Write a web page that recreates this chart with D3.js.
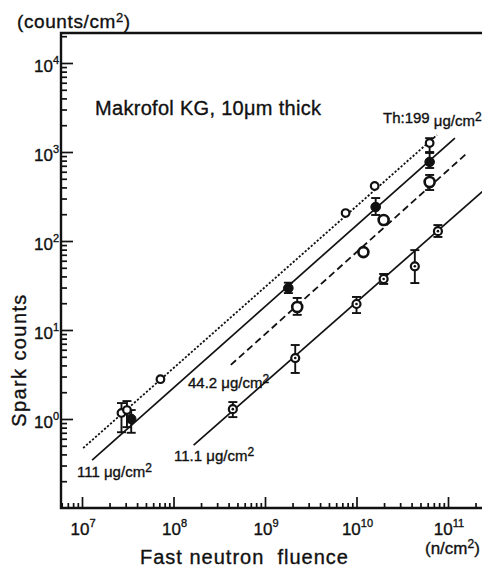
<!DOCTYPE html>
<html>
<head>
<meta charset="utf-8">
<script src="https://cdn.jsdelivr.net/npm/d3@7"></script>
<style>
  body { margin: 0; background: #fff; }
  svg { display: block; }
  text { fill: #111; stroke: #111; stroke-width: 0.35px; font-family: "Liberation Sans", Arial, sans-serif; }
  .narrow { font-family: "Liberation Sans Narrow", "Liberation Sans", Arial, sans-serif; }
</style>
</head>
<body>
<svg id="chart"></svg>
<script>
// Tick values (decades)
const fluenceDecades = [1e7, 1e8, 1e9, 1e10, 1e11];
const countDecades = [1e0, 1e1, 1e2, 1e3, 1e4];

// Measured points: fluence (n/cm2), spark counts (counts/cm2), error bar lo/hi
const th199 = [
  { fluence: 2.7e7, counts: 1.17, lo: 0.71, hi: 1.51 },
  { fluence: 3.1e7, counts: 1.26, lo: 0.81, hi: 1.59 },
  { fluence: 7.2e7, counts: 2.8 },
  { fluence: 7.6e9, counts: 206 },
  { fluence: 1.58e10, counts: 415 },
  { fluence: 6.3e10, counts: 1260, lo: 1000, hi: 1430 }
];
const th111 = [
  { fluence: 3.45e7, counts: 1.0, lo: 0.70, hi: 1.26 },
  { fluence: 1.8e9, counts: 29.6, lo: 26, hi: 34 },
  { fluence: 1.62e10, counts: 241, lo: 196, hi: 304 },
  { fluence: 6.3e10, counts: 773, lo: 661, hi: 975 }
];
const th44 = [
  { fluence: 2.25e9, counts: 18.1, lo: 14.8, hi: 22.9 },
  { fluence: 1.19e10, counts: 75 },
  { fluence: 1.98e10, counts: 172 },
  { fluence: 6.3e10, counts: 460, lo: 374, hi: 552 }
];
const th11 = [
  { fluence: 4.45e8, counts: 1.29, lo: 1.05, hi: 1.55 },
  { fluence: 2.14e9, counts: 4.84, lo: 3.29, hi: 6.78 },
  { fluence: 1.0e10, counts: 19.6, lo: 15.5, hi: 23.5 },
  { fluence: 1.98e10, counts: 37.4, lo: 32.9, hi: 42.6 },
  { fluence: 4.34e10, counts: 52, lo: 33.7, hi: 79 },
  { fluence: 7.76e10, counts: 129, lo: 111, hi: 151 }
];

// Fitted lines (end points, data units)
const fit199 = [[1.03e7, 0.472], [7.57e10, 1552]];
const fit111 = [[1.29e7, 0.346], [1.19e11, 1435]];
const fit44 = [[4.23e8, 4.05], [1.62e11, 975]];
const fit11 = [[1.66e8, 0.51], [2.6e11, 390]];

const width = 482;
const height = 570;
const plotLeft = 61, plotRight = 482, plotTop = 33, plotBottom = 508;

const svg = d3.select("#chart")
  .attr("width", width)
  .attr("height", height);

// Scales: set from decade positions, then widened to the frame
const x = d3.scaleLog().domain([1e7, 1e11]).range([82, 448]);
x.domain([x.invert(plotLeft), x.invert(plotRight)]).range([plotLeft, plotRight]);
const y = d3.scaleLog().domain([1, 1e4]).range([419, 63]);
y.domain([y.invert(plotBottom), y.invert(plotTop)]).range([plotBottom, plotTop]);

// minor ticks 2..9 of each decade inside the domain
function minorTicks(scale) {
  const [a, b] = scale.domain();
  const lo = Math.min(a, b), hi = Math.max(a, b);
  const out = [];
  for (let e = Math.floor(Math.log10(lo)); e <= Math.ceil(Math.log10(hi)); e++) {
    for (let k = 2; k <= 9; k++) {
      const v = k * Math.pow(10, e);
      if (v > lo && v < hi) out.push(v);
    }
  }
  return out;
}

const tickStyle = g => {
  g.select(".domain").remove();
  g.selectAll("line").attr("stroke", "#111").attr("stroke-width", 1.7);
};

// X axis ticks (pointing up into the plot)
svg.append("g")
    .attr("transform", `translate(0,${plotBottom})`)
    .call(d3.axisBottom(x).tickValues(minorTicks(x)).tickSize(-5).tickFormat(""))
    .call(tickStyle);
svg.append("g")
    .attr("transform", `translate(0,${plotBottom})`)
    .call(d3.axisBottom(x).tickValues(fluenceDecades).tickSize(-11).tickFormat(""))
    .call(tickStyle);

// Y axis ticks (pointing right into the plot)
svg.append("g")
    .attr("transform", `translate(${plotLeft},0)`)
    .call(d3.axisLeft(y).tickValues(minorTicks(y)).tickSize(-6).tickFormat(""))
    .call(tickStyle);
svg.append("g")
    .attr("transform", `translate(${plotLeft},0)`)
    .call(d3.axisLeft(y).tickValues(countDecades).tickSize(-12).tickFormat(""))
    .call(tickStyle);

// Frame: left, bottom and top lines
svg.append("path")
    .attr("d", `M${plotRight},${plotTop}H${plotLeft}V${plotBottom}H${plotRight}`)
    .attr("fill", "none")
    .attr("stroke", "#111")
    .attr("stroke-width", 2.4);

// Tick labels 10^n
svg.append("g")
  .selectAll("text")
  .data(fluenceDecades)
  .enter()
  .append("text")
    .attr("class", "narrow")
    .attr("x", d => x(d) + 1)
    .attr("y", 535)
    .style("font-size", "17px")
    .style("text-anchor", "middle")
    .each(function(d) {
      const t = d3.select(this);
      t.append("tspan").text("10");
      t.append("tspan").text(Math.round(Math.log10(d)))
        .attr("dy", -8).style("font-size", "11px");
    });

svg.append("g")
  .selectAll("text")
  .data(countDecades)
  .enter()
  .append("text")
    .attr("class", "narrow")
    .attr("x", 59)
    .attr("y", d => y(d) + 9)
    .style("font-size", "17px")
    .style("text-anchor", "end")
    .each(function(d) {
      const t = d3.select(this);
      t.append("tspan").text("10");
      t.append("tspan").text(Math.round(Math.log10(d)))
        .attr("dy", -8).style("font-size", "11px");
    });

// Fit lines
const line = d3.line().x(d => x(d[0])).y(d => y(d[1]));
const fits = [
  { pts: fit199, dash: "2.2,1.8", w: 1.8 },
  { pts: fit111, dash: null, w: 1.7 },
  { pts: fit44, dash: "7,4", w: 1.8 },
  { pts: fit11, dash: null, w: 1.7 }
];
svg.append("g")
  .selectAll("path")
  .data(fits)
  .enter()
  .append("path")
    .attr("d", d => line(d.pts))
    .attr("fill", "none")
    .attr("stroke", "#111")
    .attr("stroke-width", d => d.w)
    .attr("stroke-dasharray", d => d.dash);

// Error bars
const allPoints = [...th199, ...th111, ...th44, ...th11].filter(d => d.lo !== undefined);
const eb = svg.append("g").attr("stroke", "#111").attr("stroke-width", 1.9);
allPoints.forEach(d => {
  const cx = x(d.fluence);
  eb.append("line").attr("x1", cx).attr("x2", cx).attr("y1", y(d.lo)).attr("y2", y(d.hi));
  eb.append("line").attr("x1", cx - 4.5).attr("x2", cx + 4.5).attr("y1", y(d.lo)).attr("y2", y(d.lo));
  eb.append("line").attr("x1", cx - 4.5).attr("x2", cx + 4.5).attr("y1", y(d.hi)).attr("y2", y(d.hi));
});

// Markers
function markers(data, r, fill, sw, dot) {
  const g = svg.append("g");
  g.selectAll("circle")
    .data(data)
    .enter()
    .append("circle")
      .attr("cx", d => x(d.fluence))
      .attr("cy", d => y(d.counts))
      .attr("r", r)
      .attr("fill", fill)
      .attr("stroke", "#111")
      .attr("stroke-width", sw);
  if (dot) {
    g.selectAll(".dot")
      .data(data)
      .enter()
      .append("circle")
        .attr("cx", d => x(d.fluence))
        .attr("cy", d => y(d.counts))
        .attr("r", 1.3)
        .attr("fill", "#111");
  }
}
markers(th199, 3.8, "#fff", 2.2, false);
markers(th111, 4.8, "#111", 1, false);
markers(th44, 5, "#fff", 2.6, false);
markers(th11, 4, "#fff", 2.2, true);

// Axis titles
svg.append("text")
    .attr("x", 17)
    .attr("y", 28)
    .style("font-size", "19px")
    .style("letter-spacing", "0.6px")
    .each(function() {
      const t = d3.select(this);
      t.append("tspan").text("(counts/cm");
      t.append("tspan").text("2").attr("dy", -6).style("font-size", "13px");
      t.append("tspan").text(")").attr("dy", 6);
    });

svg.append("text")
    .text("Spark counts")
    .attr("transform", "translate(26,360) rotate(-90)")
    .style("font-size", "20px")
    .style("letter-spacing", "1.4px")
    .style("text-anchor", "middle");

svg.append("text")
    .text("Fast neutron\u00a0\u00a0fluence")
    .attr("x", 140)
    .attr("y", 564)
    .style("font-size", "20px")
    .style("letter-spacing", "1px");

svg.append("text")
    .attr("x", 425)
    .attr("y", 554)
    .style("font-size", "17px")
    .each(function() {
      const t = d3.select(this);
      t.append("tspan").text("(n/cm");
      t.append("tspan").text("2").attr("dy", -6).style("font-size", "12px");
      t.append("tspan").text(")").attr("dy", 6);
    });

svg.append("text")
    .text("Makrofol KG, 10\u03bcm thick")
    .attr("x", 95)
    .attr("y", 115)
    .style("font-size", "20px")
    .style("letter-spacing", "0.3px");

// Line labels
function unitLabel(xp, yp, value, size, drop) {
  const t = svg.append("text")
      .attr("x", xp)
      .attr("y", yp)
      .style("font-size", size + "px");
  t.append("tspan").attr("class", "narrow").text(value);
  t.append("tspan").text(" \u03bcg/cm").attr("dy", drop);
  t.append("tspan").text("2").attr("dy", -5).style("font-size", (size - 3) + "px");
}
unitLabel(383, 123, "Th:199", 15, 3);
unitLabel(188, 388, "44.2", 15, 0);
unitLabel(174, 461, "11.1", 15, 0);
unitLabel(77, 477, "111", 15, 0);
</script>
</body>
</html>
